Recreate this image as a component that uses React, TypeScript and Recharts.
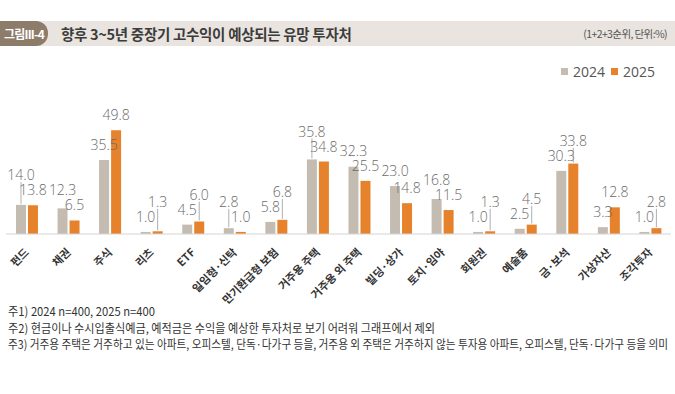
import { BarChart, Bar, XAxis, YAxis, Legend, LabelList } from 'recharts';

const categories = [
  '펀드', '채권', '주식', '리츠', 'ETF', '일임형·신탁', '만기환급형 보험', '거주용 주택',
  '거주용 외 주택', '빌딩·상가', '토지·임야', '회원권', '예술품', '금·보석', '가상자산', '조각투자',
];
const values2024 = [14.0, 12.3, 35.5, 1.0, 4.5, 2.8, 5.8, 35.8, 32.3, 23.0, 16.8, 1.0, 2.5, 30.3, 3.3, 1.0];
const values2025 = [13.8, 6.5, 49.8, 1.3, 6.0, 1.0, 6.8, 34.8, 25.5, 14.8, 11.5, 1.3, 4.5, 33.8, 12.8, 2.8];
const seriesNames = ['2024', '2025'];
const footnotes = [
  '주1) 2024 n=400, 2025 n=400',
  '주2) 현금이나 수시입출식예금, 예적금은 수익을 예상한 투자처로 보기 어려워 그래프에서 제외',
  '주3) 거주용 주택은 거주하고 있는 아파트, 오피스텔, 단독·다가구 등을, 거주용 외 주택은 거주하지 않는 투자용 아파트, 오피스텔, 단독·다가구 등을 의미',
];

const GREY = '#C4BCB1';
const ORANGE = '#E5822B';
const KR = '"Noto Sans CJK KR", "Noto Sans", sans-serif';

const chartData = categories.map((name, i) => ({ name, y2024: values2024[i], y2025: values2025[i] }));

// value labels: the higher bar of a pair gets pushed up when labels would collide
const makeLabel = (own: number[], other: number[]) => (props: any) => {
  const { x, y, width, height, index } = props;
  const v = own[index];
  const o = other[index];
  const ppu = v > 0 ? height / v : 0;
  const base = y + height;
  const naturalBottom = y - 10;
  const otherBottom = base - o * ppu - 10;
  let bottom = naturalBottom;
  if (v > o && otherBottom - naturalBottom < 15) bottom = otherBottom - 15;
  const cx = x + width / 2;
  const lifted = naturalBottom - bottom > 4;
  return (
    <g>
      {lifted && <line x1={cx} x2={cx} y1={y - 1} y2={bottom + 2} stroke="#9a9a9a" strokeWidth={0.8} />}
      <text x={cx} y={bottom} textAnchor="middle" fontSize={14} fill="#6a6a6a"
        fontFamily='"Open Sans", sans-serif' fontWeight={300}>
        {v.toFixed(1)}
      </text>
    </g>
  );
};

const AngledTick = (props: any) => {
  const { x, y, payload } = props;
  return (
    <g transform={`translate(${x + 3},${y + 11})`}>
      <text transform="rotate(-45)" textAnchor="end" fontSize={11} fontWeight={700}
        fill="#333" fontFamily={KR}>
        {payload.value}
      </text>
    </g>
  );
};

const LegendContent = () => (
  <div style={{ display: 'flex', alignItems: 'center', fontFamily: '"Open Sans", sans-serif', fontSize: 14, color: '#555' }}>
    {seriesNames.map((n, i) => (
      <div key={n} style={{ display: 'flex', alignItems: 'center', marginRight: 6 }}>
        <span style={{ width: 7, height: 7, background: i === 0 ? GREY : ORANGE, display: 'inline-block', marginRight: 5 }} />
        <span>{n}</span>
      </div>
    ))}
  </div>
);

const App = () => {
  return (
    <div style={{ position: 'absolute', left: 0, top: 0, width: 675, height: 394, background: '#fff', overflow: 'hidden' }}>
      <div style={{ position: 'absolute', left: 0, top: 21, width: 675, height: 25, background: '#E9E4DF' }} />
      <div style={{
        position: 'absolute', left: 0, top: 21, width: 48, height: 25, background: '#8E7C6B',
        borderRadius: '0 12px 12px 0', color: '#fff', fontFamily: KR, fontSize: 12, fontWeight: 700,
        lineHeight: '25px', textAlign: 'center', letterSpacing: -0.8,
      }}>그림III-4</div>
      <div style={{
        position: 'absolute', left: 61, top: 21, height: 25, lineHeight: '25px', fontFamily: KR,
        fontSize: 14.5, fontWeight: 700, color: '#3c3c3c', letterSpacing: -0.3,
      }}>향후 3~5년 중장기 고수익이 예상되는 유망 투자처</div>
      <div style={{
        position: 'absolute', right: 8, top: 21, height: 25, lineHeight: '25px', fontFamily: KR,
        fontSize: 10.5, color: '#555', letterSpacing: -0.6,
      }}>(1+2+3순위, 단위:%)</div>

      <div style={{ position: 'absolute', left: 0, top: 0 }}>
        <BarChart width={675} height={312} data={chartData}
          margin={{ top: 90, right: 4, left: 6, bottom: 18 }}
          barCategoryGap="24%" barGap={2}>
          <XAxis dataKey="name" interval={0} tickLine={false} height={60}
            axisLine={{ stroke: '#D4D4D4' }} tick={<AngledTick />} />
          <YAxis hide domain={[0, 60]} />
          <Legend verticalAlign="top" content={<LegendContent />}
            wrapperStyle={{ position: 'absolute', top: 62, left: 561, width: 110 }} />
          <Bar dataKey="y2024" name="2024" fill={GREY} isAnimationActive={false}>
            <LabelList dataKey="y2024" content={makeLabel(values2024, values2025)} />
          </Bar>
          <Bar dataKey="y2025" name="2025" fill={ORANGE} isAnimationActive={false}>
            <LabelList dataKey="y2025" content={makeLabel(values2025, values2024)} />
          </Bar>
        </BarChart>
      </div>

      <svg width={675} height={60} style={{ position: 'absolute', left: 0, top: 300 }}>
        {footnotes.map((t, i) => (
          <text key={i} x={8} y={16 + i * 16.5} fontSize={12} fill="#333" fontFamily={KR}
            textLength={[147, 427, 660][i]} lengthAdjust="spacingAndGlyphs">
            {t}
          </text>
        ))}
      </svg>
    </div>
  );
};

export default App;
